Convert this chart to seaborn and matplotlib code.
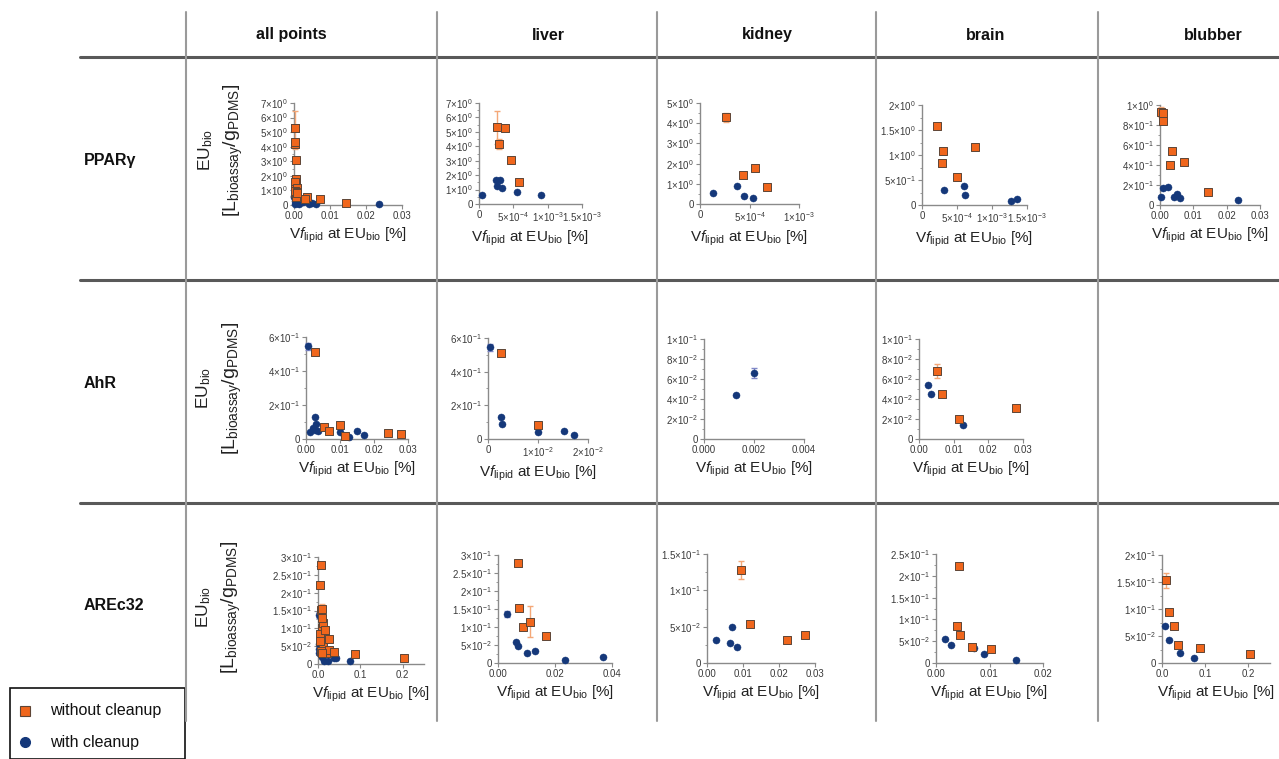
import numpy as np
import matplotlib
matplotlib.use("Agg")
import matplotlib.pyplot as plt
import seaborn as sns
import pandas as pd
from matplotlib.lines import Line2D
from matplotlib.patches import Rectangle
from matplotlib.ticker import FixedLocator, AutoMinorLocator

# ---------------- data ----------------
row_labels = ["PPARγ", "AhR", "AREc32"]
col_labels = ["all points", "liver", "kidney", "brain", "blubber"]
legend_labels = ["without cleanup", "with cleanup"]

# PPARγ
ppar_liver_wo_x = [2.6e-4, 3.8e-4, 2.9e-4, 4.6e-4, 5.8e-4]
ppar_liver_wo_y = [5.31, 5.27, 4.16, 3.07, 1.55]
ppar_liver_wo_e = [1.12, 0.08, 0.35, 0.06, 0.05]
ppar_liver_w_x = [5e-5, 2.5e-4, 3.0e-4, 2.6e-4, 3.3e-4, 5.6e-4, 9.1e-4]
ppar_liver_w_y = [0.65, 1.64, 1.64, 1.22, 1.11, 0.81, 0.60]

ppar_kidney_wo_x = [2.6e-4, 4.3e-4, 5.6e-4, 6.8e-4]
ppar_kidney_wo_y = [4.29, 1.45, 1.78, 0.84]
ppar_kidney_wo_e = [0.22, 0.08, 0.06, 0.05]
ppar_kidney_w_x = [1.3e-4, 3.7e-4, 4.4e-4, 5.4e-4]
ppar_kidney_w_y = [0.54, 0.87, 0.38, 0.31]

ppar_brain_wo_x = [2.2e-4, 3.05e-4, 2.8e-4, 4.95e-4, 7.5e-4]
ppar_brain_wo_y = [1.58, 1.09, 0.85, 0.56, 1.16]
ppar_brain_wo_e = [0.04, 0.04, 0.03, 0.02, 0.05]
ppar_brain_w_x = [3.2e-4, 6.0e-4, 6.2e-4, 1.27e-3, 1.36e-3]
ppar_brain_w_y = [0.30, 0.38, 0.21, 0.087, 0.13]

ppar_blubber_wo_x = [0.0003, 0.0008, 0.0009, 0.0035, 0.0031, 0.0073, 0.0145]
ppar_blubber_wo_y = [0.93, 0.92, 0.84, 0.54, 0.40, 0.43, 0.13]
ppar_blubber_wo_e = [0.05, 0.02, 0.02, 0.02, 0.01, 0.01, 0.01]
ppar_blubber_w_x = [0.0002, 0.0010, 0.0025, 0.0042, 0.0050, 0.0060, 0.0235]
ppar_blubber_w_y = [0.083, 0.167, 0.177, 0.077, 0.11, 0.07, 0.05]

# AhR
ahr_liver_wo_x = [0.0025, 0.0100]
ahr_liver_wo_y = [0.511, 0.085]
ahr_liver_wo_e = [0.008, 0.005]
ahr_liver_w_x = [0.00047, 0.0026, 0.0028, 0.0100, 0.0151, 0.0172]
ahr_liver_w_y = [0.545, 0.131, 0.089, 0.040, 0.046, 0.026]
ahr_liver_w_e = [0.02, 0.004, 0.003, 0.004, 0.002, 0.002]

ahr_kidney_w_x = [0.00127, 0.0020]
ahr_kidney_w_y = [0.044, 0.066]
ahr_kidney_w_e = [0.001, 0.005]

ahr_brain_wo_x = [0.0053, 0.0067, 0.0116, 0.0280]
ahr_brain_wo_y = [0.068, 0.045, 0.020, 0.031]
ahr_brain_wo_e = [0.007, 0.002, 0.002, 0.001]
ahr_brain_w_x = [0.0027, 0.0034, 0.0126]
ahr_brain_w_y = [0.054, 0.045, 0.014]

ahr_all_extra_wo_x = [0.0240]
ahr_all_extra_wo_y = [0.037]

# AREc32
are_liver_wo_x = [0.0069, 0.0075, 0.0089, 0.0111, 0.0170]
are_liver_wo_y = [0.277, 0.152, 0.100, 0.115, 0.076]
are_liver_wo_e = [0.004, 0.005, 0.003, 0.044, 0.003]
are_liver_w_x = [0.0032, 0.0064, 0.0071, 0.0102, 0.0131, 0.0236, 0.0368]
are_liver_w_y = [0.137, 0.057, 0.046, 0.028, 0.034, 0.0092, 0.018]
are_liver_w_e = [0.008, 0.002, 0.002, 0.001, 0.001, 0.001, 0.001]

are_kidney_wo_x = [0.0094, 0.0120, 0.0221, 0.0271]
are_kidney_wo_y = [0.128, 0.053, 0.031, 0.039]
are_kidney_wo_e = [0.012, 0.002, 0.001, 0.001]
are_kidney_w_x = [0.0026, 0.0069, 0.0064, 0.0083]
are_kidney_w_y = [0.031, 0.050, 0.0275, 0.0216]

are_brain_wo_x = [0.0043, 0.0040, 0.0045, 0.0067, 0.0102]
are_brain_wo_y = [0.222, 0.084, 0.064, 0.036, 0.032]
are_brain_wo_e = [0.004, 0.002, 0.002, 0.001, 0.001]
are_brain_w_x = [0.0017, 0.0028, 0.0071, 0.0090, 0.0150]
are_brain_w_y = [0.055, 0.042, 0.034, 0.021, 0.0076]

are_blubber_wo_x = [0.0092, 0.017, 0.027, 0.038, 0.087, 0.203]
are_blubber_wo_y = [0.153, 0.094, 0.069, 0.034, 0.027, 0.017]
are_blubber_wo_e = [0.014, 0.003, 0.002, 0.002, 0.001, 0.001]
are_blubber_w_x = [0.006, 0.017, 0.042, 0.075]
are_blubber_w_y = [0.068, 0.042, 0.018, 0.0086]

# ---------------- style ----------------
sns.set_style("ticks")
plt.rcParams['font.family'] = ['Liberation Sans', 'DejaVu Sans']
plt.rcParams['mathtext.fontset'] = 'custom'
plt.rcParams['mathtext.rm'] = 'Liberation Sans'
plt.rcParams['mathtext.it'] = 'Liberation Sans:italic'
plt.rcParams['mathtext.bf'] = 'Liberation Sans:bold'

ORANGE = '#F0661C'
ORANGE_EDGE = '#5e4536'
ORANGE_ERR = '#F4A878'
NAVY = '#15387A'
NAVY_ERR = '#8088C8'
AXIS = '#8a8a8a'
TICKTXT = '#3a3a3a'

W, H = 1279, 759
fig = plt.figure(figsize=(W / 100, H / 100), dpi=100)
fig.patch.set_facecolor('white')


def rect(x0, x1, y0, y1):
    return [x0 / W, 1 - y1 / H, (x1 - x0) / W, (y1 - y0) / H]


def sci_label(v):
    if abs(v) < 1e-15:
        return "0"
    e = int(np.floor(np.log10(abs(v)) + 1e-9))
    m = v / 10 ** e
    ms = f"{m:.1f}".rstrip('0').rstrip('.')
    return rf"${ms}{{\times}}10^{{{e}}}$"


def dec_label(v, n):
    return f"{v:.{n}f}"


def cat(*lists):
    out = []
    for l in lists:
        out += list(l)
    return out


def zeros(n):
    return [0.0] * n


# combined "all points" series
ppar_all_wo_x = cat(ppar_liver_wo_x, ppar_kidney_wo_x, ppar_brain_wo_x, ppar_blubber_wo_x)
ppar_all_wo_y = cat(ppar_liver_wo_y, ppar_kidney_wo_y, ppar_brain_wo_y, ppar_blubber_wo_y)
ppar_all_wo_e = cat(ppar_liver_wo_e, ppar_kidney_wo_e, ppar_brain_wo_e, ppar_blubber_wo_e)
ppar_all_w_x = cat(ppar_liver_w_x, ppar_kidney_w_x, ppar_brain_w_x, ppar_blubber_w_x)
ppar_all_w_y = cat(ppar_liver_w_y, ppar_kidney_w_y, ppar_brain_w_y, ppar_blubber_w_y)

ahr_all_wo_x = cat(ahr_liver_wo_x, ahr_brain_wo_x, ahr_all_extra_wo_x)
ahr_all_wo_y = cat(ahr_liver_wo_y, ahr_brain_wo_y, ahr_all_extra_wo_y)
ahr_all_wo_e = cat(ahr_liver_wo_e, ahr_brain_wo_e, zeros(len(ahr_all_extra_wo_x)))
ahr_all_w_x = cat(ahr_liver_w_x, ahr_kidney_w_x, ahr_brain_w_x)
ahr_all_w_y = cat(ahr_liver_w_y, ahr_kidney_w_y, ahr_brain_w_y)
ahr_all_w_e = cat(ahr_liver_w_e, ahr_kidney_w_e, zeros(len(ahr_brain_w_x)))

are_all_wo_x = cat(are_liver_wo_x, are_kidney_wo_x, are_brain_wo_x, are_blubber_wo_x)
are_all_wo_y = cat(are_liver_wo_y, are_kidney_wo_y, are_brain_wo_y, are_blubber_wo_y)
are_all_wo_e = cat(are_liver_wo_e, are_kidney_wo_e, are_brain_wo_e, are_blubber_wo_e)
are_all_w_x = cat(are_liver_w_x, are_kidney_w_x, are_brain_w_x, are_blubber_w_x)
are_all_w_y = cat(are_liver_w_y, are_kidney_w_y, are_brain_w_y, are_blubber_w_y)
are_all_w_e = cat(are_liver_w_e, zeros(len(are_kidney_w_x)), zeros(len(are_brain_w_x)),
                  zeros(len(are_blubber_w_x)))

panels = [
    # PPARγ
    dict(px=(294, 402, 103, 205), xlim=0.03, xt=[0, .01, .02, .03], xf=2, ylim=7, yt=[0, 1, 2, 3, 4, 5, 6, 7],
         wo=(ppar_all_wo_x, ppar_all_wo_y, ppar_all_wo_e), w=(ppar_all_w_x, ppar_all_w_y, None)),
    dict(px=(479, 582, 103, 204), xlim=1.5e-3, xt=[0, 5e-4, 1e-3, 1.5e-3], xf='sci', ylim=7, yt=[0, 1, 2, 3, 4, 5, 6, 7],
         wo=(ppar_liver_wo_x, ppar_liver_wo_y, ppar_liver_wo_e), w=(ppar_liver_w_x, ppar_liver_w_y, None)),
    dict(px=(700, 799, 103, 204), xlim=1e-3, xt=[0, 5e-4, 1e-3], xf='sci', ylim=5, yt=[0, 1, 2, 3, 4, 5],
         wo=(ppar_kidney_wo_x, ppar_kidney_wo_y, ppar_kidney_wo_e), w=(ppar_kidney_w_x, ppar_kidney_w_y, None)),
    dict(px=(922, 1027, 105, 205), xlim=1.5e-3, xt=[0, 5e-4, 1e-3, 1.5e-3], xf='sci', ylim=2, yt=[0, .5, 1, 1.5, 2],
         wo=(ppar_brain_wo_x, ppar_brain_wo_y, ppar_brain_wo_e), w=(ppar_brain_w_x, ppar_brain_w_y, None)),
    dict(px=(1160, 1260, 105, 205), xlim=0.03, xt=[0, .01, .02, .03], xf=2, ylim=1, yt=[0, .2, .4, .6, .8, 1],
         wo=(ppar_blubber_wo_x, ppar_blubber_wo_y, ppar_blubber_wo_e), w=(ppar_blubber_w_x, ppar_blubber_w_y, None)),
    # AhR
    dict(px=(306, 408, 337, 439), xlim=0.03, xt=[0, .01, .02, .03], xf=2, ylim=.6, yt=[0, .2, .4, .6],
         wo=(ahr_all_wo_x, ahr_all_wo_y, ahr_all_wo_e), w=(ahr_all_w_x, ahr_all_w_y, ahr_all_w_e)),
    dict(px=(488, 588, 338, 439), xlim=0.02, xt=[0, .01, .02], xf='sci', ylim=.6, yt=[0, .2, .4, .6],
         wo=(ahr_liver_wo_x, ahr_liver_wo_y, ahr_liver_wo_e), w=(ahr_liver_w_x, ahr_liver_w_y, ahr_liver_w_e)),
    dict(px=(704, 804, 339, 439), xlim=0.004, xt=[0, .002, .004], xf=3, ylim=.1, yt=[0, .02, .04, .06, .08, .1],
         wo=None, w=(ahr_kidney_w_x, ahr_kidney_w_y, ahr_kidney_w_e)),
    dict(px=(919, 1023, 339, 439), xlim=0.03, xt=[0, .01, .02, .03], xf=2, ylim=.1, yt=[0, .02, .04, .06, .08, .1],
         wo=(ahr_brain_wo_x, ahr_brain_wo_y, ahr_brain_wo_e), w=(ahr_brain_w_x, ahr_brain_w_y, None)),
    # AREc32
    dict(px=(318, 424, 557, 664), xlim=0.25, xt=[0, .1, .2], xf=1, ylim=.3, yt=[0, .05, .1, .15, .2, .25, .3],
         wo=(are_all_wo_x, are_all_wo_y, are_all_wo_e), w=(are_all_w_x, are_all_w_y, are_all_w_e)),
    dict(px=(498, 612, 555, 663), xlim=0.04, xt=[0, .02, .04], xf=2, ylim=.3, yt=[0, .05, .1, .15, .2, .25, .3],
         wo=(are_liver_wo_x, are_liver_wo_y, are_liver_wo_e), w=(are_liver_w_x, are_liver_w_y, are_liver_w_e)),
    dict(px=(707, 815, 554, 663), xlim=0.03, xt=[0, .01, .02, .03], xf=2, ylim=.15, yt=[0, .05, .1, .15],
         wo=(are_kidney_wo_x, are_kidney_wo_y, are_kidney_wo_e), w=(are_kidney_w_x, are_kidney_w_y, None)),
    dict(px=(936, 1043, 554, 663), xlim=0.02, xt=[0, .01, .02], xf=2, ylim=.25, yt=[0, .05, .1, .15, .2, .25],
         wo=(are_brain_wo_x, are_brain_wo_y, are_brain_wo_e), w=(are_brain_w_x, are_brain_w_y, None)),
    dict(px=(1162, 1270, 555, 663), xlim=0.25, xt=[0, .1, .2], xf=1, ylim=.2, yt=[0, .05, .1, .15, .2],
         wo=(are_blubber_wo_x, are_blubber_wo_y, are_blubber_wo_e), w=(are_blubber_w_x, are_blubber_w_y, None)),
]

XLABEL = r"V$\mathit{f}_{\mathrm{lipid}}$ at EU$_{\mathrm{bio}}$ [%]"

for p in panels:
    ax = fig.add_axes(rect(*p['px']))
    ax.set_facecolor('none')
    # with cleanup (navy circles)
    if p['w'] is not None:
        wx, wy, we = p['w']
        if we is not None:
            ax.errorbar(wx, wy, yerr=we, fmt='none', ecolor=NAVY_ERR, elinewidth=1.0,
                        capsize=2, capthick=1.0, zorder=3, clip_on=False)
        sns.scatterplot(data=pd.DataFrame({'x': wx, 'y': wy}), x='x', y='y', ax=ax,
                        marker='o', color=NAVY, edgecolor=NAVY, linewidth=0.3, s=26,
                        clip_on=False, zorder=4, legend=False)
    # without cleanup (orange squares)
    if p['wo'] is not None:
        ox, oy, oe = p['wo']
        if oe is not None:
            ax.errorbar(ox, oy, yerr=oe, fmt='none', ecolor=ORANGE_ERR, elinewidth=1.0,
                        capsize=2, capthick=1.0, zorder=3, clip_on=False)
        sns.scatterplot(data=pd.DataFrame({'x': ox, 'y': oy}), x='x', y='y', ax=ax,
                        marker='s', color=ORANGE, edgecolor=ORANGE_EDGE, linewidth=0.7, s=30,
                        clip_on=False, zorder=5, legend=False)
    ax.set_xlim(0, p['xlim'])
    ax.set_ylim(0, p['ylim'])
    ax.xaxis.set_major_locator(FixedLocator(p['xt']))
    ax.yaxis.set_major_locator(FixedLocator(p['yt']))
    ax.yaxis.set_minor_locator(AutoMinorLocator(2))
    if p['xf'] == 'sci':
        ax.set_xticklabels([sci_label(v) for v in p['xt']])
    else:
        ax.set_xticklabels([dec_label(v, p['xf']) for v in p['xt']])
    ax.set_yticklabels([sci_label(v) for v in p['yt']])
    for s in ['top', 'right']:
        ax.spines[s].set_visible(False)
    for s in ['left', 'bottom']:
        ax.spines[s].set_color(AXIS)
        ax.spines[s].set_linewidth(1.0)
    ax.tick_params(axis='both', which='major', length=3, width=0.8, color=AXIS,
                   labelsize=7, labelcolor=TICKTXT, pad=1.5)
    ax.tick_params(axis='y', which='minor', length=1.6, width=0.6, color=AXIS)
    ax.set_xlabel(XLABEL, fontsize=11, color='#222222', labelpad=3)
    ax.set_ylabel('')

# ---------------- table frame ----------------
def hline(y, x0, x1, color, lw):
    fig.add_artist(Line2D([x0 / W, x1 / W], [1 - y / H, 1 - y / H], color=color, lw=lw,
                          transform=fig.transFigure))


def vline(x, y0, y1, color, lw):
    fig.add_artist(Line2D([x / W, x / W], [1 - y0 / H, 1 - y1 / H], color=color, lw=lw,
                          transform=fig.transFigure))


for yy in [57, 280, 503]:
    hline(yy, 80, W, '#595959', 2.2)
for xx in [186, 437, 657, 876, 1098]:
    vline(xx, 12, 721, '#9a9a9a', 1.5)

col_centers = [291, 548, 767, 986, 1213]
for lab, cx in zip(col_labels, col_centers):
    fig.text(cx / W, 1 - 35 / H, lab, ha='center', va='center', fontsize=11.5,
             fontweight='bold', color='#111111')

row_centers = [160, 383, 606]
for lab, cy in zip(row_labels, row_centers):
    fig.text(84 / W, 1 - cy / H, lab, ha='left', va='center', fontsize=11.5,
             fontweight='bold', color='#111111')

# y labels for the first column
ylab_pos = [(206, 233, 150), (204, 232, 388), (204, 231, 607)]
for x1, x2, cy in ylab_pos:
    fig.text(x1 / W, 1 - cy / H, r"EU$_{\mathrm{bio}}$", rotation=90, ha='center', va='center',
             fontsize=12.5, color='#222222')
    fig.text(x2 / W, 1 - cy / H, r"[L$_{\mathrm{bioassay}}$/g$_{\mathrm{PDMS}}$]", rotation=90,
             ha='center', va='center', fontsize=14, color='#222222')

# ---------------- legend box ----------------
fig.add_artist(Rectangle((10 / W, 0), 175 / W, (H - 688) / H, transform=fig.transFigure,
                         fill=False, edgecolor='#111111', lw=1.2))
fig.add_artist(Line2D([25 / W], [1 - 711 / H], marker='s', markersize=7, markerfacecolor=ORANGE,
                      markeredgecolor=ORANGE_EDGE, markeredgewidth=0.8, linestyle='none',
                      transform=fig.transFigure))
fig.add_artist(Line2D([25 / W], [1 - 742 / H], marker='o', markersize=7, markerfacecolor=NAVY,
                      markeredgecolor=NAVY, linestyle='none', transform=fig.transFigure))
fig.text(50 / W, 1 - 711 / H, legend_labels[0], ha='left', va='center', fontsize=11.5, color='#111111')
fig.text(50 / W, 1 - 742 / H, legend_labels[1], ha='left', va='center', fontsize=11.5, color='#111111')

fig.savefig("out.png", dpi=100, facecolor='white')
